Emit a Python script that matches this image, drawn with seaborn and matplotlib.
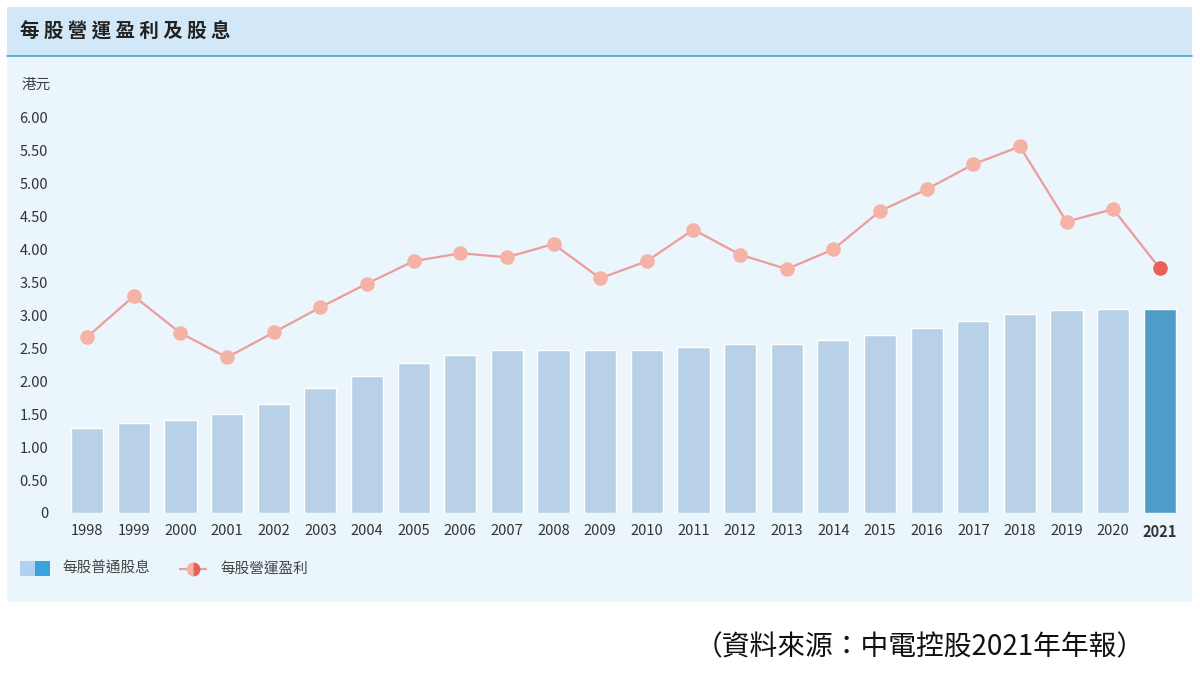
import matplotlib
matplotlib.use("Agg")
import matplotlib.pyplot as plt
import matplotlib.patches as mpatches
from matplotlib.lines import Line2D
import seaborn as sns
import pandas as pd

years = [str(y) for y in range(1998, 2022)]
dividend = [1.29, 1.37, 1.41, 1.50, 1.65, 1.89, 2.08, 2.27, 2.40, 2.48, 2.48, 2.48,
            2.48, 2.52, 2.57, 2.57, 2.62, 2.70, 2.80, 2.91, 3.02, 3.08, 3.10, 3.10]
earnings = [2.67, 3.29, 2.73, 2.36, 2.74, 3.12, 3.48, 3.82, 3.94, 3.88, 4.08, 3.56,
            3.82, 4.30, 3.92, 3.70, 4.00, 4.58, 4.91, 5.29, 5.56, 4.42, 4.61, 3.71]
yticks = [0, 0.5, 1, 1.5, 2, 2.5, 3, 3.5, 4, 4.5, 5, 5.5, 6]
ytick_labels = ["0"] + [f"{v:.2f}" for v in yticks[1:]]

sns.set_theme(style="white")
plt.rcParams['font.family'] = ['Noto Sans CJK TC', 'DejaVu Sans']

W, H = 1200, 675
fig = plt.figure(figsize=(12, 6.75), dpi=100)
fig.patch.set_facecolor("white")

# panel background and header (behind the axes)
fig.patches.append(mpatches.Rectangle((7/W, 1-602/H), 1185/W, 595/H, transform=fig.transFigure,
                                      facecolor="#eaf5fc", edgecolor="none", zorder=-2))
fig.patches.append(mpatches.Rectangle((7/W, 1-56/H), 1185/W, 49/H, transform=fig.transFigure,
                                      facecolor="#d2e8f8", edgecolor="none", zorder=-1))
fig.add_artist(Line2D([7/W, 1192/W], [1-56/H, 1-56/H], color="#4aa6c8", lw=1.2))
fig.text(20/W, 1-32/H, "每 股 營 運 盈 利 及 股 息", fontsize=14, fontweight="bold", color="#222222", va="center")
fig.text(22/W, 1-85/H, "港元", fontsize=10.5, color="#444444", va="center")

ax = fig.add_axes([62/W, 162/H, (1185-62)/W, 412/H])
ax.set_facecolor("none")
df = pd.DataFrame({"year": years, "dividend": dividend, "earnings": earnings})
colors = ["#b0d2ef"] * (len(years) - 1) + ["#3aa3dd"]
sns.barplot(data=df, x="year", y="dividend", hue="year", palette=colors, legend=False,
            width=0.69, ax=ax, zorder=2)
ax.plot(range(len(years)), earnings, color="#ec9c9c", lw=1.6, zorder=3)
ax.scatter(range(len(years) - 1), earnings[:-1], s=110, color="#f5b3a5", zorder=4, linewidths=0)
ax.scatter([len(years) - 1], [earnings[-1]], s=110, color="#e8605a", zorder=4, linewidths=0)
ax.set_xlim(-0.54, len(years) - 0.46)
ax.set_ylim(0, 6.25)
ax.set_yticks(yticks)
ax.set_yticklabels(ytick_labels, fontsize=10.5, color="#333333")
ax.tick_params(length=0, pad=10)
ax.tick_params(axis="x", labelsize=10.5, labelcolor="#333333", pad=8)
ax.get_xticklabels()[-1].set_fontweight("bold")
ax.set_xlabel("")
ax.set_ylabel("")
for s in ax.spines.values():
    s.set_visible(False)

# legend
fig.patches.append(mpatches.Rectangle((20/W, 1-576/H), 15/W, 15/H, transform=fig.transFigure,
                                      facecolor="#b0d2ef", edgecolor="none"))
fig.patches.append(mpatches.Rectangle((35/W, 1-576/H), 15/W, 15/H, transform=fig.transFigure,
                                      facecolor="#3aa3dd", edgecolor="none"))
fig.text(62/W, 1-569/H, "每股普通股息", fontsize=10.5, color="#444444", va="center")
fig.add_artist(Line2D([180/W, 206/W], [1-569/H, 1-569/H], color="#ec9c9c", lw=1.6))
fig.add_artist(Line2D([193/W], [1-569/H], marker="o", markersize=10, color="#f5b3a5",
                      markerfacecoloralt="#e8605a", fillstyle="left", markeredgewidth=0, linestyle="none"))
fig.text(220/W, 1-569/H, "每股營運盈利", fontsize=10.5, color="#444444", va="center")

fig.text(1145/W, 1-647/H, "（資料來源：中電控股2021年年報）", fontsize=20, color="#111111",
         ha="right", va="center")

fig.savefig("out.png", dpi=100)
